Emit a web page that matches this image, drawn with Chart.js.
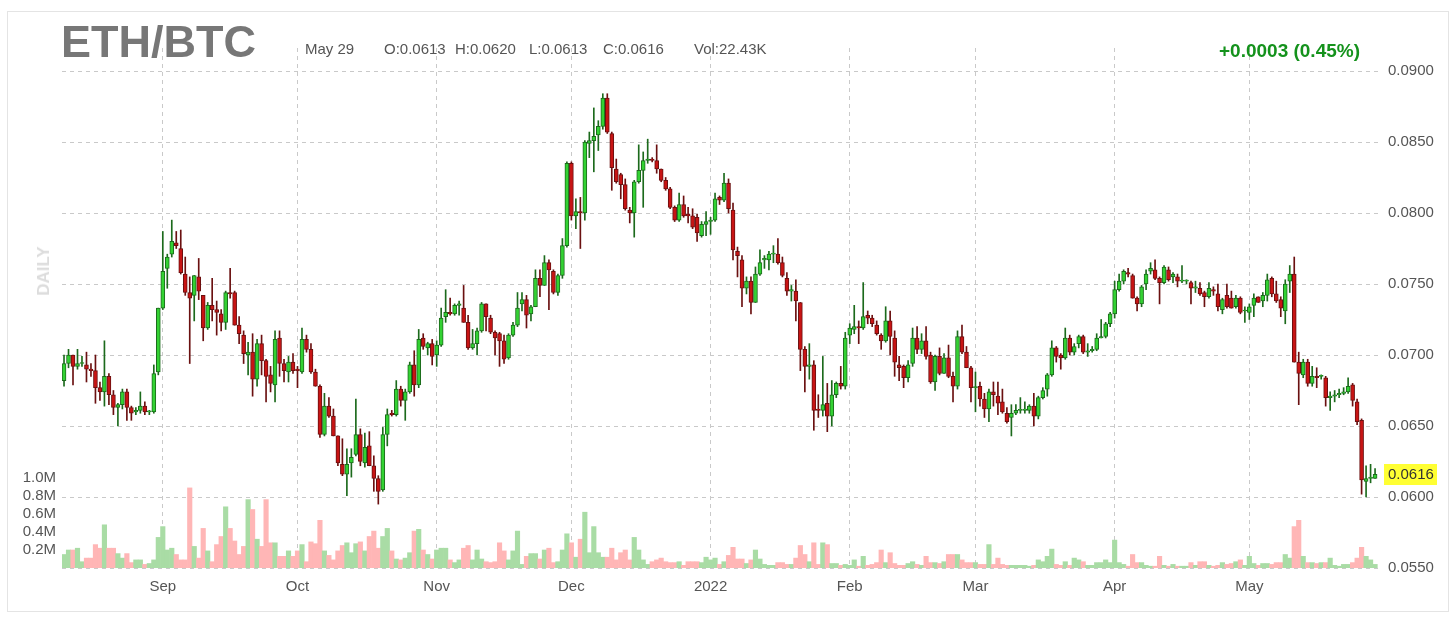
<!DOCTYPE html>
<html>
<head>
<meta charset="utf-8">
<title>ETH/BTC</title>
<script src="https://cdn.jsdelivr.net/npm/chart.js@4.4.1/dist/chart.umd.min.js"></script>
<style>
  html, body { margin: 0; padding: 0; background: #fff; }
  #wrap { position: relative; width: 1456px; height: 621px; font-family: "Liberation Sans", Arial, Helvetica, sans-serif; }
  #frame { position: absolute; left: 7px; top: 11px; width: 1442px; height: 601px; border: 1px solid #e4e4e4; box-sizing: border-box; }
  canvas { position: absolute; left: 0; top: 0; }
  .txt { position: absolute; white-space: nowrap; }
  #title { left: 61px; top: 19px; font-size: 45px; line-height: 45px; font-weight: bold; color: #777; }
  .info { top: 41px; font-size: 15px; line-height: 15px; color: #555; }
  #change { right: 96px; top: 41px; font-size: 19px; line-height: 19px; font-weight: bold; color: #14921c; }
  #daily { left: 44px; top: 271px; transform: translate(-50%, -50%) rotate(-90deg); font-size: 17px; font-weight: bold; color: #dcdcdc; }
</style>
</head>
<body>
<div id="wrap">
  <div id="frame"></div>
  <canvas id="chart" width="1456" height="621"></canvas>
  <div class="txt" id="title">ETH/BTC</div>
  <div class="txt info" style="left:305px">May 29</div>
  <div class="txt info" style="left:384px">O:0.0613</div>
  <div class="txt info" style="left:455px">H:0.0620</div>
  <div class="txt info" style="left:529px">L:0.0613</div>
  <div class="txt info" style="left:603px">C:0.0616</div>
  <div class="txt info" style="left:694px">Vol:22.43K</div>
  <div class="txt" id="change">+0.0003 (0.45%)</div>
  <div class="txt" id="daily">DAILY</div>
</div>
<script>
// daily candles, Aug 10 2021 -> May 29 2022 (index 0 = Aug 10)
const open = [
  0.0682,0.0694,0.0700,0.0692,0.0694,0.0693,0.0690,0.0689,0.0677,0.0674,
  0.0685,0.0672,0.0663,0.0665,0.0674,0.0663,0.0660,0.0661,0.0664,0.0660,
  0.0660,0.0688,0.0733,0.0761,0.0771,0.0779,0.0775,0.0757,0.0744,0.0742,
  0.0755,0.0742,0.0719,0.0735,0.0732,0.0729,0.0723,0.0744,0.0744,0.0721,
  0.0714,0.0700,0.0702,0.0683,0.0708,0.0696,0.0686,0.0679,0.0712,0.0694,
  0.0688,0.0695,0.0690,0.0688,0.0711,0.0704,0.0688,0.0678,0.0644,0.0664,
  0.0657,0.0643,0.0623,0.0616,0.0624,0.0630,0.0644,0.0624,0.0636,0.0622,
  0.0613,0.0605,0.0644,0.0659,0.0658,0.0676,0.0668,0.0674,0.0693,0.0679,
  0.0712,0.0705,0.0708,0.0700,0.0707,0.0727,0.0730,0.0729,0.0735,0.0733,
  0.0723,0.0705,0.0708,0.0717,0.0736,0.0726,0.0716,0.0715,0.0710,0.0698,
  0.0714,0.0721,0.0736,0.0739,0.0729,0.0734,0.0754,0.0749,0.0765,0.0759,
  0.0744,0.0756,0.0777,0.0835,0.0798,0.0801,0.0800,0.0849,0.0851,0.0855,
  0.0861,0.0881,0.0856,0.0831,0.0827,0.0820,0.0802,0.0800,0.0822,0.0830,
  0.0837,0.0838,0.0837,0.0831,0.0823,0.0817,0.0804,0.0795,0.0806,0.0799,
  0.0798,0.0797,0.0784,0.0792,0.0794,0.0795,0.0811,0.0809,0.0821,0.0802,
  0.0773,0.0767,0.0747,0.0752,0.0737,0.0757,0.0767,0.0767,0.0771,0.0771,
  0.0765,0.0754,0.0745,0.0745,0.0737,0.0704,0.0692,0.0693,0.0662,0.0661,
  0.0666,0.0657,0.0672,0.0680,0.0678,0.0714,0.0718,0.0720,0.0719,0.0728,
  0.0726,0.0721,0.0714,0.0710,0.0724,0.0712,0.0693,0.0692,0.0684,0.0694,
  0.0712,0.0704,0.0710,0.0700,0.0681,0.0699,0.0687,0.0698,0.0685,0.0678,
  0.0713,0.0702,0.0691,0.0677,0.0678,0.0669,0.0662,0.0674,0.0671,0.0667,
  0.0659,0.0656,0.0659,0.0661,0.0661,0.0661,0.0664,0.0657,0.0670,0.0676,
  0.0686,0.0705,0.0700,0.0698,0.0712,0.0702,0.0708,0.0713,0.0702,0.0703,
  0.0704,0.0712,0.0713,0.0722,0.0729,0.0746,0.0752,0.0758,0.0756,0.0740,
  0.0736,0.0750,0.0759,0.0760,0.0754,0.0751,0.0760,0.0755,0.0755,0.0752,
  0.0752,0.0751,0.0747,0.0747,0.0744,0.0741,0.0746,0.0743,0.0732,0.0742,
  0.0740,0.0734,0.0740,0.0731,0.0730,0.0735,0.0741,0.0738,0.0742,0.0754,
  0.0743,0.0739,0.0731,0.0752,0.0757,0.0695,0.0686,0.0695,0.0680,0.0685,
  0.0685,0.0684,0.0670,0.0671,0.0672,0.0673,0.0674,0.0679,0.0667,0.0654,
  0.0611,0.0613,0.0613
];
const high = [
  0.0700,0.0704,0.0700,0.0704,0.0699,0.0702,0.0694,0.0700,0.0681,0.0710,
  0.0687,0.0675,0.0666,0.0676,0.0676,0.0664,0.0663,0.0674,0.0667,0.0661,
  0.0693,0.0733,0.0787,0.0771,0.0795,0.0787,0.0788,0.0769,0.0755,0.0756,
  0.0768,0.0742,0.0737,0.0754,0.0738,0.0732,0.0745,0.0761,0.0745,0.0727,
  0.0717,0.0709,0.0715,0.0711,0.0714,0.0697,0.0692,0.0717,0.0717,0.0697,
  0.0699,0.0701,0.0692,0.0719,0.0714,0.0708,0.0690,0.0679,0.0673,0.0670,
  0.0662,0.0643,0.0641,0.0634,0.0634,0.0669,0.0648,0.0645,0.0646,0.0629,
  0.0615,0.0649,0.0662,0.0661,0.0682,0.0678,0.0676,0.0695,0.0703,0.0718,
  0.0715,0.0709,0.0711,0.0710,0.0733,0.0746,0.0740,0.0736,0.0738,0.0749,
  0.0728,0.0718,0.0719,0.0737,0.0736,0.0728,0.0717,0.0716,0.0714,0.0715,
  0.0723,0.0744,0.0744,0.0742,0.0735,0.0760,0.0760,0.0770,0.0767,0.0760,
  0.0757,0.0782,0.0836,0.0836,0.0810,0.0811,0.0851,0.0857,0.0874,0.0865,
  0.0884,0.0884,0.0857,0.0838,0.0828,0.0824,0.0804,0.0823,0.0848,0.0843,
  0.0852,0.0839,0.0848,0.0831,0.0825,0.0818,0.0805,0.0814,0.0812,0.0804,
  0.0803,0.0799,0.0794,0.0801,0.0797,0.0814,0.0812,0.0828,0.0824,0.0807,
  0.0776,0.0770,0.0755,0.0755,0.0762,0.0774,0.0770,0.0773,0.0777,0.0782,
  0.0769,0.0758,0.0749,0.0753,0.0737,0.0706,0.0708,0.0696,0.0672,0.0699,
  0.0680,0.0682,0.0681,0.0692,0.0716,0.0722,0.0735,0.0724,0.0751,0.0731,
  0.0728,0.0724,0.0715,0.0734,0.0731,0.0717,0.0699,0.0693,0.0696,0.0719,
  0.0720,0.0715,0.0720,0.0702,0.0700,0.0705,0.0701,0.0707,0.0688,0.0717,
  0.0721,0.0706,0.0692,0.0688,0.0681,0.0673,0.0676,0.0681,0.0681,0.0676,
  0.0663,0.0665,0.0665,0.0670,0.0667,0.0665,0.0673,0.0671,0.0677,0.0687,
  0.0710,0.0706,0.0701,0.0719,0.0714,0.0708,0.0714,0.0714,0.0708,0.0706,
  0.0715,0.0725,0.0723,0.0730,0.0752,0.0757,0.0760,0.0761,0.0757,0.0741,
  0.0749,0.0760,0.0765,0.0767,0.0755,0.0763,0.0762,0.0758,0.0757,0.0763,
  0.0753,0.0752,0.0752,0.0751,0.0745,0.0751,0.0748,0.0750,0.0740,0.0750,
  0.0745,0.0742,0.0741,0.0734,0.0736,0.0743,0.0741,0.0744,0.0757,0.0755,
  0.0752,0.0741,0.0753,0.0763,0.0769,0.0702,0.0697,0.0697,0.0692,0.0691,
  0.0686,0.0685,0.0674,0.0675,0.0676,0.0677,0.0684,0.0680,0.0669,0.0655,
  0.0622,0.0623,0.0620
];
const low = [
  0.0678,0.0691,0.0679,0.0690,0.0692,0.0681,0.0685,0.0666,0.0668,0.0664,
  0.0665,0.0658,0.0650,0.0662,0.0654,0.0654,0.0658,0.0659,0.0658,0.0658,
  0.0659,0.0686,0.0732,0.0747,0.0769,0.0775,0.0757,0.0742,0.0694,0.0724,
  0.0739,0.0710,0.0718,0.0724,0.0714,0.0717,0.0718,0.0740,0.0721,0.0708,
  0.0694,0.0686,0.0671,0.0678,0.0686,0.0667,0.0674,0.0667,0.0685,0.0681,
  0.0681,0.0687,0.0677,0.0687,0.0702,0.0687,0.0678,0.0642,0.0643,0.0656,
  0.0643,0.0622,0.0615,0.0601,0.0614,0.0629,0.0622,0.0621,0.0622,0.0604,
  0.0595,0.0604,0.0636,0.0657,0.0657,0.0664,0.0654,0.0673,0.0671,0.0677,
  0.0704,0.0700,0.0693,0.0692,0.0706,0.0723,0.0728,0.0728,0.0728,0.0723,
  0.0704,0.0704,0.0700,0.0716,0.0717,0.0715,0.0700,0.0692,0.0694,0.0697,
  0.0713,0.0720,0.0731,0.0719,0.0724,0.0734,0.0741,0.0749,0.0732,0.0743,
  0.0742,0.0754,0.0776,0.0795,0.0789,0.0775,0.0795,0.0839,0.0829,0.0844,
  0.0859,0.0856,0.0816,0.0821,0.0810,0.0802,0.0793,0.0783,0.0821,0.0804,
  0.0835,0.0836,0.0828,0.0822,0.0816,0.0803,0.0794,0.0794,0.0797,0.0793,
  0.0789,0.0780,0.0783,0.0784,0.0785,0.0794,0.0806,0.0808,0.0800,0.0767,
  0.0755,0.0734,0.0743,0.0729,0.0737,0.0756,0.0761,0.0760,0.0765,0.0764,
  0.0755,0.0742,0.0738,0.0724,0.0689,0.0674,0.0683,0.0647,0.0656,0.0657,
  0.0646,0.0650,0.0670,0.0676,0.0676,0.0708,0.0715,0.0708,0.0718,0.0722,
  0.0720,0.0714,0.0704,0.0709,0.0700,0.0685,0.0682,0.0677,0.0681,0.0692,
  0.0701,0.0701,0.0697,0.0680,0.0675,0.0686,0.0687,0.0684,0.0667,0.0676,
  0.0701,0.0691,0.0667,0.0660,0.0664,0.0656,0.0653,0.0664,0.0658,0.0659,
  0.0652,0.0643,0.0658,0.0659,0.0659,0.0659,0.0650,0.0655,0.0669,0.0671,
  0.0685,0.0695,0.0690,0.0697,0.0700,0.0700,0.0705,0.0701,0.0699,0.0702,
  0.0703,0.0712,0.0712,0.0720,0.0726,0.0745,0.0750,0.0755,0.0740,0.0731,
  0.0734,0.0746,0.0757,0.0753,0.0736,0.0750,0.0752,0.0751,0.0748,0.0751,
  0.0750,0.0736,0.0744,0.0742,0.0734,0.0740,0.0742,0.0731,0.0729,0.0733,
  0.0733,0.0733,0.0729,0.0723,0.0725,0.0727,0.0737,0.0734,0.0738,0.0741,
  0.0737,0.0727,0.0722,0.0744,0.0695,0.0665,0.0684,0.0678,0.0678,0.0677,
  0.0683,0.0664,0.0661,0.0667,0.0670,0.0672,0.0673,0.0664,0.0651,0.0602,
  0.0600,0.0610,0.0613
];
const close = [
  0.0694,0.0700,0.0692,0.0694,0.0694,0.0690,0.0689,0.0677,0.0674,0.0685,
  0.0672,0.0663,0.0665,0.0674,0.0663,0.0659,0.0661,0.0664,0.0660,0.0660,
  0.0687,0.0733,0.0759,0.0769,0.0780,0.0777,0.0758,0.0744,0.0740,0.0756,
  0.0745,0.0719,0.0735,0.0732,0.0730,0.0723,0.0744,0.0743,0.0721,0.0715,
  0.0701,0.0702,0.0683,0.0708,0.0696,0.0685,0.0680,0.0711,0.0694,0.0689,
  0.0695,0.0689,0.0689,0.0711,0.0704,0.0688,0.0678,0.0644,0.0664,0.0657,
  0.0643,0.0624,0.0616,0.0623,0.0628,0.0644,0.0625,0.0635,0.0622,0.0613,
  0.0604,0.0644,0.0658,0.0658,0.0676,0.0668,0.0674,0.0693,0.0679,0.0711,
  0.0706,0.0708,0.0699,0.0707,0.0726,0.0730,0.0729,0.0735,0.0736,0.0723,
  0.0705,0.0708,0.0717,0.0736,0.0727,0.0716,0.0712,0.0710,0.0697,0.0714,
  0.0721,0.0733,0.0739,0.0728,0.0734,0.0754,0.0749,0.0765,0.0760,0.0744,
  0.0756,0.0777,0.0835,0.0798,0.0801,0.0800,0.0850,0.0851,0.0854,0.0861,
  0.0881,0.0857,0.0832,0.0822,0.0820,0.0803,0.0800,0.0822,0.0830,0.0837,
  0.0838,0.0837,0.0831,0.0823,0.0817,0.0804,0.0795,0.0806,0.0798,0.0798,
  0.0790,0.0786,0.0792,0.0794,0.0795,0.0810,0.0809,0.0821,0.0803,0.0774,
  0.0770,0.0747,0.0752,0.0737,0.0757,0.0765,0.0768,0.0771,0.0771,0.0765,
  0.0756,0.0745,0.0746,0.0738,0.0704,0.0692,0.0693,0.0661,0.0661,0.0665,
  0.0657,0.0672,0.0680,0.0678,0.0712,0.0719,0.0720,0.0719,0.0727,0.0726,
  0.0722,0.0715,0.0710,0.0724,0.0713,0.0695,0.0691,0.0684,0.0693,0.0712,
  0.0704,0.0710,0.0699,0.0681,0.0699,0.0687,0.0698,0.0685,0.0678,0.0713,
  0.0702,0.0691,0.0677,0.0677,0.0669,0.0662,0.0674,0.0672,0.0666,0.0660,
  0.0653,0.0659,0.0661,0.0661,0.0662,0.0664,0.0657,0.0670,0.0675,0.0686,
  0.0705,0.0699,0.0698,0.0712,0.0702,0.0706,0.0713,0.0702,0.0703,0.0704,
  0.0712,0.0713,0.0722,0.0729,0.0746,0.0752,0.0759,0.0757,0.0740,0.0736,
  0.0748,0.0757,0.0761,0.0754,0.0751,0.0762,0.0753,0.0757,0.0752,0.0752,
  0.0752,0.0747,0.0748,0.0743,0.0741,0.0747,0.0745,0.0734,0.0739,0.0734,
  0.0733,0.0740,0.0730,0.0731,0.0734,0.0740,0.0737,0.0742,0.0753,0.0743,
  0.0738,0.0733,0.0750,0.0757,0.0695,0.0687,0.0695,0.0680,0.0685,0.0684,
  0.0685,0.0670,0.0671,0.0672,0.0673,0.0674,0.0678,0.0668,0.0653,0.0612,
  0.0613,0.0614,0.0616
];
// volume in millions
const volume = [
  0.15,0.20,0.20,0.22,0.07,0.11,0.11,0.26,0.22,0.48,
  0.22,0.22,0.16,0.11,0.16,0.06,0.09,0.09,0.04,0.05,
  0.09,0.34,0.46,0.20,0.22,0.15,0.09,0.09,0.89,0.24,
  0.11,0.44,0.19,0.07,0.26,0.35,0.68,0.44,0.30,0.15,
  0.24,0.76,0.65,0.32,0.24,0.76,0.28,0.28,0.13,0.13,
  0.19,0.13,0.19,0.26,0.07,0.29,0.27,0.53,0.19,0.14,
  0.09,0.19,0.25,0.28,0.17,0.27,0.29,0.19,0.35,0.41,
  0.22,0.35,0.44,0.19,0.10,0.09,0.11,0.17,0.41,0.43,
  0.20,0.15,0.10,0.20,0.22,0.22,0.09,0.06,0.09,0.22,
  0.25,0.09,0.20,0.10,0.07,0.06,0.07,0.28,0.19,0.09,
  0.19,0.41,0.04,0.13,0.16,0.16,0.10,0.20,0.22,0.06,
  0.07,0.20,0.38,0.28,0.12,0.32,0.62,0.17,0.46,0.17,
  0.12,0.12,0.22,0.09,0.17,0.20,0.09,0.34,0.20,0.09,
  0.04,0.07,0.09,0.11,0.07,0.06,0.06,0.07,0.03,0.07,
  0.07,0.07,0.06,0.12,0.09,0.11,0.04,0.07,0.14,0.23,
  0.10,0.10,0.05,0.09,0.20,0.10,0.04,0.03,0.03,0.06,
  0.06,0.04,0.04,0.11,0.25,0.15,0.07,0.28,0.04,0.28,
  0.26,0.05,0.05,0.03,0.04,0.03,0.09,0.02,0.13,0.03,
  0.04,0.06,0.20,0.06,0.17,0.05,0.03,0.03,0.05,0.07,
  0.04,0.03,0.13,0.06,0.06,0.05,0.07,0.15,0.15,0.15,
  0.09,0.06,0.06,0.06,0.04,0.04,0.26,0.04,0.11,0.04,
  0.03,0.03,0.03,0.03,0.03,0.02,0.03,0.09,0.07,0.13,
  0.21,0.04,0.03,0.07,0.03,0.11,0.09,0.07,0.03,0.03,
  0.06,0.06,0.09,0.06,0.31,0.06,0.04,0.02,0.15,0.06,
  0.06,0.03,0.02,0.02,0.13,0.03,0.02,0.04,0.02,0.02,
  0.02,0.06,0.03,0.07,0.07,0.03,0.02,0.03,0.06,0.04,
  0.05,0.07,0.09,0.03,0.13,0.05,0.03,0.05,0.05,0.04,
  0.06,0.06,0.15,0.11,0.46,0.53,0.13,0.06,0.06,0.05,
  0.06,0.06,0.11,0.03,0.02,0.04,0.04,0.06,0.11,0.23,
  0.13,0.09,0.04
];

const monthTicks = [22, 52, 83, 113, 144, 175, 203, 234, 264];
const monthLabels = ["Sep", "Oct", "Nov", "Dec", "2022", "Feb", "Mar", "Apr", "May"];
const priceTicks = [0.055, 0.06, 0.065, 0.07, 0.075, 0.08, 0.085, 0.09];
const volTicks = [0.2, 0.4, 0.6, 0.8, 1.0];

const FONT = '"Liberation Sans", Arial, Helvetica, sans-serif';
Chart.defaults.font.family = FONT;

const upFill = "#33d233", upLine = "#1c6a1c";
const downFill = "#c81414", downLine = "#6a1010";
const volUp = "#a9dca5", volDown = "#ffb6b6";
const isUp = (i) => close[i] >= open[i];

const wicks = low.map((l, i) => ({ x: i, y: [l, high[i]] }));
const bodies = open.map((o, i) => ({ x: i, y: [o, close[i]] }));
const vols = volume.map((v, i) => ({ x: i, y: v }));

// yellow last-price marker on the price axis
const lastPrice = {
  id: "lastPrice",
  afterDraw(chart) {
    const { ctx, scales } = chart;
    const last = close[close.length - 1];
    const y = scales.y.getPixelForValue(last);
    ctx.save();
    ctx.fillStyle = "#ffff33";
    ctx.fillRect(1384, Math.round(y) - 10, 53, 21);
    ctx.fillStyle = "#333";
    ctx.font = "15px " + FONT;
    ctx.textBaseline = "middle";
    ctx.fillText(last.toFixed(4), 1388, y + 0.5);
    ctx.restore();
  }
};

new Chart(document.getElementById("chart"), {
  type: "bar",
  data: {
    datasets: [
      {
        label: "body",
        data: bodies,
        yAxisID: "y",
        grouped: false,
        barThickness: 4,
        borderWidth: 1,
        borderSkipped: false,
        minBarLength: 1,
        backgroundColor: (c) => (isUp(c.dataIndex) ? upFill : downFill),
        borderColor: (c) => (isUp(c.dataIndex) ? upLine : downLine),
        order: 1
      },
      {
        label: "wick",
        data: wicks,
        yAxisID: "y",
        grouped: false,
        barThickness: 1,
        backgroundColor: (c) => (isUp(c.dataIndex) ? upLine : downLine),
        order: 2
      },
      {
        label: "volume",
        data: vols,
        yAxisID: "yv",
        grouped: false,
        barPercentage: 1,
        categoryPercentage: 1,
        backgroundColor: (c) => (isUp(c.dataIndex) ? volUp : volDown),
        order: 3
      }
    ]
  },
  options: {
    responsive: false,
    devicePixelRatio: 1,
    animation: false,
    layout: { padding: { top: 48, left: 0, right: 0, bottom: 0 } },
    plugins: { legend: { display: false }, tooltip: { enabled: false } },
    scales: {
      x: {
        type: "linear",
        offset: false,
        min: -0.45,
        max: 293.1,
        afterBuildTicks: (s) => { s.ticks = monthTicks.map((v) => ({ value: v })); },
        afterFit: (s) => { s.height = 53; },
        ticks: {
          autoSkip: false,
          maxRotation: 0,
          padding: 10,
          color: "#555",
          font: { size: 15 },
          callback: (v, i) => monthLabels[i]
        },
        grid: { color: "#c9c9c9", drawTicks: false, offset: false },
        border: { display: false, dash: [4, 4] }
      },
      y: {
        position: "right",
        min: 0.055,
        max: 0.09162,
        afterBuildTicks: (s) => { s.ticks = priceTicks.map((v) => ({ value: v })); },
        afterFit: (s) => { s.width = 76; },
        ticks: {
          padding: 8,
          color: "#555",
          font: { size: 15 },
          callback: (v) => v.toFixed(4)
        },
        grid: { color: "#c9c9c9", drawTicks: false },
        border: { display: false, dash: [4, 4] }
      },
      yv: {
        position: "left",
        min: 0,
        max: 5.778,
        afterBuildTicks: (s) => { s.ticks = volTicks.map((v) => ({ value: v })); },
        afterFit: (s) => { s.width = 62; },
        ticks: {
          padding: 6,
          color: "#555",
          font: { size: 15 },
          callback: (v) => v.toFixed(1) + "M"
        },
        grid: { display: false, drawTicks: false },
        border: { display: false }
      }
    }
  },
  plugins: [lastPrice]
});
</script>
</body>
</html>
